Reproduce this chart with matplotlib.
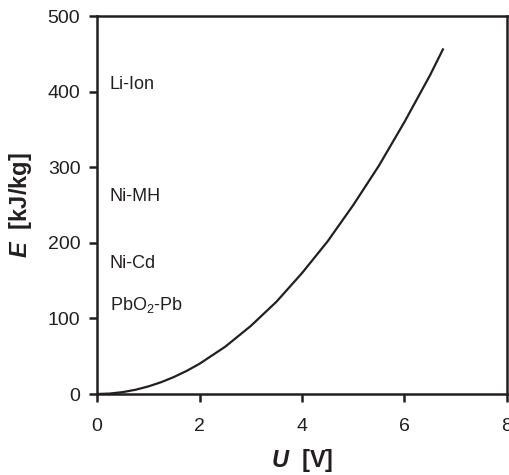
import matplotlib.pyplot as plt

plt.rcParams['font.family'] = ['Liberation Sans', 'DejaVu Sans']
plt.rcParams['mathtext.fontset'] = 'custom'
plt.rcParams['mathtext.rm'] = 'Liberation Sans'
plt.rcParams['mathtext.bfit'] = 'Liberation Sans:italic:bold'

# Energiedichte über Zellspannung
U = [0, 0.25, 0.5, 0.75, 1, 1.25, 1.5, 1.75, 2, 2.5, 3, 3.5, 4, 4.5, 5, 5.5, 6, 6.5, 6.75]
E = [0, 0.6, 2.5, 5.6, 10, 15.6, 22.5, 30.6, 40, 62.5, 90, 122, 160, 202, 250, 302, 360, 422, 456]

# Batterietypen mit ihrer Lage auf der E-Achse
labels = ['Li-Ion', 'Ni-MH', 'Ni-Cd', 'PbO$_2$-Pb']
label_E = [410, 262, 173, 118]

ink = '#231f20'

fig = plt.figure(figsize=(5.09, 4.75), dpi=100)
ax = fig.add_axes([0.1906, 0.1705, 0.8054, 0.7955])

ax.plot(U, E, color=ink, lw=1.6)

for txt, y in zip(labels, label_E):
    ax.text(0.25, y, txt, fontsize=13, color=ink, va='center', ha='left')

ax.set_xlim(0, 8)
ax.set_ylim(0, 500)
ax.set_xticks([0, 2, 4, 6, 8])
ax.set_yticks([0, 100, 200, 300, 400, 500])

for s in ax.spines.values():
    s.set_linewidth(1.8)
    s.set_color(ink)

ax.tick_params(axis='x', direction='out', length=6, width=1.8, pad=11,
               labelsize=14, colors=ink)
ax.tick_params(axis='y', direction='out', length=6, width=1.8, pad=6,
               labelsize=14, colors=ink)

ax.set_xlabel(r'$\bfit{U}$  [V]', fontsize=17, fontweight='bold', color=ink, labelpad=9)
ax.set_ylabel(r'$\bfit{E}$  [kJ/kg]', fontsize=17, fontweight='bold', color=ink, labelpad=10)

plt.savefig('out.png', dpi=100)
